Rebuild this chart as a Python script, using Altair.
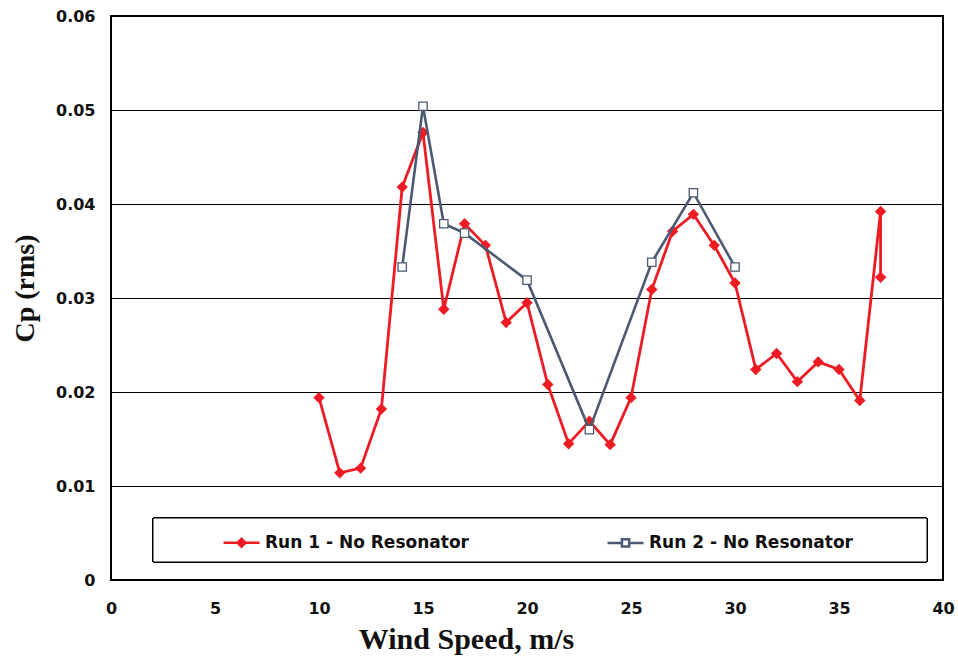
import altair as alt
import pandas as pd

# Run 1 - No Resonator
run1_speed = [10, 11, 12, 13, 14, 15, 16, 17, 18, 19, 20, 21, 22, 23, 24, 25, 26, 27, 28, 29, 30,
              31, 32, 33, 34, 35, 36, 37, 37]
run1_cp = [0.0194, 0.0114, 0.0119, 0.0182, 0.0418, 0.0476, 0.0288, 0.0379, 0.0356, 0.0274, 0.0295,
           0.0208, 0.0145, 0.0169, 0.0144, 0.0194, 0.0309, 0.0371, 0.0389, 0.0356, 0.0316,
           0.0224, 0.0241, 0.0211, 0.0232, 0.0224, 0.0191, 0.0392, 0.0322]

# Run 2 - No Resonator
run2_speed = [14, 15, 16, 17, 20, 23, 26, 28, 30]
run2_cp = [0.0333, 0.0504, 0.0379, 0.0369, 0.0319, 0.0160, 0.0338, 0.0412, 0.0333]

series_names = ["Run 1 - No Resonator", "Run 2 - No Resonator"]
series_colors = ["#ED1C24", "#4B5A72"]
legend_fills = ["#ED1C24", "#FFFFFF"]
legend_shapes = ["M-1,0H1M0,-0.22L0.22,0L0,0.22L-0.22,0Z",
                 "M-1,0H-0.2M0.2,0H1M-0.2,-0.2H0.2V0.2H-0.2Z"]
x_ticks = [0, 5, 10, 15, 20, 25, 30, 35, 40]
y_ticks = [0, 0.01, 0.02, 0.03, 0.04, 0.05, 0.06]

rows = []
for i, (s, c) in enumerate(zip(run1_speed, run1_cp)):
    rows.append({"speed": s, "cp": c, "series": series_names[0], "idx": i})
for i, (s, c) in enumerate(zip(run2_speed, run2_cp)):
    rows.append({"speed": s, "cp": c, "series": series_names[1], "idx": i})
df = pd.DataFrame(rows)

W, H = 832, 564

xenc = alt.X("speed:Q", scale=alt.Scale(domain=[0, 40], nice=False),
             axis=alt.Axis(values=x_ticks, grid=False, ticks=False, domain=False,
                           labelFlush=False,
                           labelFont="DejaVu Sans", labelFontWeight="bold", labelFontSize=16,
                           labelColor="#111111", labelPadding=20,
                           title="Wind Speed, m/s", titleFont="Liberation Serif",
                           titleFontWeight="bold", titleFontSize=30, titleColor="#111111",
                           titleX=355, titleY=68, titleAlign="center",
                           titleBaseline="alphabetic"))
yenc = alt.Y("cp:Q", scale=alt.Scale(domain=[0, 0.06], nice=False),
             axis=alt.Axis(values=y_ticks, grid=True, gridColor="#000000", gridWidth=1,
                           gridOpacity=1, ticks=False, domain=False,
                           labelExpr="format(datum.value, '.2~f')",
                           labelFont="DejaVu Sans", labelFontWeight="bold", labelFontSize=16,
                           labelColor="#111111", labelPadding=16,
                           title="Cp (rms)", titleFont="Liberation Serif",
                           titleFontWeight="bold", titleFontSize=28, titleColor="#111111",
                           titleX=-86, titleY=272, titleAlign="center",
                           titleBaseline="middle", titleAngle=270))

color_scale = alt.Scale(domain=series_names, range=series_colors)

legend = alt.Legend(
    orient="none", legendX=111, legendY=507, direction="horizontal", title=None,
    symbolSize=1296, symbolStrokeWidth=2.5, symbolOpacity=1, labelOffset=4, columnPadding=133,
    labelLimit=400, padding=0, labelFont="DejaVu Sans", labelFontWeight="bold",
    labelFontSize=17, labelColor="#111111")

legend_box = alt.Chart(df).mark_rect(fill="white", stroke="black", strokeWidth=1).encode(
    x=alt.value(42), x2=alt.value(816), y=alt.value(502), y2=alt.value(546))

base = alt.Chart(df)

legend_layer = base.mark_point(opacity=0, filled=False).encode(
    x=xenc, y=yenc,
    stroke=alt.Stroke("series:N", scale=alt.Scale(domain=series_names, range=series_colors), legend=legend),
    fill=alt.Fill("series:N", scale=alt.Scale(domain=series_names, range=legend_fills), legend=legend),
    shape=alt.Shape("series:N", scale=alt.Scale(domain=series_names, range=legend_shapes), legend=legend))

line1 = base.transform_filter(alt.datum.series == series_names[0]).mark_line(strokeWidth=2.8).encode(
    x="speed:Q", y="cp:Q", order="idx:Q",
    color=alt.Color("series:N", scale=color_scale, legend=None))
pts1 = base.transform_filter(alt.datum.series == series_names[0]).mark_point(
    shape="diamond", filled=True, size=130, opacity=1, color=series_colors[0]).encode(
    x="speed:Q", y="cp:Q")
line2 = base.transform_filter(alt.datum.series == series_names[1]).mark_line(strokeWidth=2.6).encode(
    x="speed:Q", y="cp:Q", order="idx:Q",
    color=alt.Color("series:N", scale=color_scale, legend=None))
pts2 = base.transform_filter(alt.datum.series == series_names[1]).mark_point(
    shape="square", filled=False, size=70, opacity=1, stroke=series_colors[1],
    fill="white", fillOpacity=1, strokeWidth=1.3).encode(
    x="speed:Q", y="cp:Q")

chart = alt.layer(legend_box, legend_layer, line1, pts1, line2, pts2).properties(
    width=W, height=H,
    autosize=alt.AutoSizeParams(type="none"),
    padding={"left": 111, "top": 16, "right": 15, "bottom": 77},
    background="white",
).resolve_scale(color="independent").configure_view(stroke="#000000", strokeWidth=2)

chart.save("out.html", embed_options={"renderer": "svg", "actions": False})
